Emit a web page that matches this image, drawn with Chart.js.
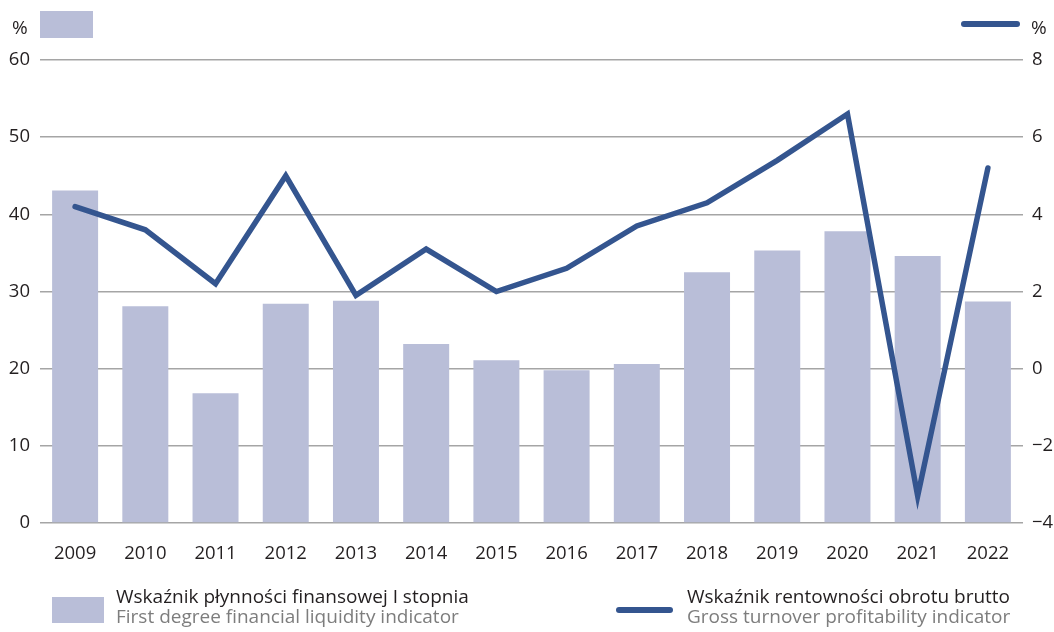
<!DOCTYPE html>
<html>
<head>
<meta charset="utf-8">
<script src="https://cdn.jsdelivr.net/npm/chart.js@4"></script>
<style>
	body { margin: 0; background: #fff; }
	#wrap { position: relative; width: 1054px; height: 632px; font-family: 'Open Sans', sans-serif; color: #231f20; }
	#wrap canvas { position: absolute; left: 0; top: 0; }
	.unit { position: absolute; font-size: 19px; line-height: 20px; }
	.swatch { position: absolute; background: #b9bed8; }
	.stroke { position: absolute; background: #34558f; border-radius: 3px; }
	.legend { position: absolute; font-size: 19px; line-height: 20px; white-space: nowrap; }
	.legend .en { color: #7d7d7d; }
</style>
</head>
<body>
<div id="wrap">
	<canvas id="finChart" width="1054" height="632"></canvas>
	<div class="unit" style="left:12px; top:17px;">%</div>
	<div class="swatch" style="left:40px; top:11px; width:53px; height:27px;"></div>
	<div class="stroke" style="left:961px; top:21px; width:59px; height:6px;"></div>
	<div class="unit" style="left:1031px; top:17px;">%</div>

	<div class="swatch" style="left:52px; top:597px; width:52px; height:26px;"></div>
	<div class="legend" style="left:116px; top:586px;">
		<div>Wskaźnik płynności finansowej I stopnia</div>
		<div class="en">First degree financial liquidity indicator</div>
	</div>
	<div class="stroke" style="left:616px; top:607px; width:57px; height:6px;"></div>
	<div class="legend" style="left:687px; top:586px;">
		<div>Wskaźnik rentowności obrotu brutto</div>
		<div class="en">Gross turnover profitability indicator</div>
	</div>
</div>
<script>
// years on the x axis
const years = ['2009', '2010', '2011', '2012', '2013', '2014', '2015', '2016', '2017', '2018', '2019', '2020', '2021', '2022'];
// first degree financial liquidity (%), left axis
const liquidity = [43.1, 28.1, 16.8, 28.4, 28.8, 23.2, 21.1, 19.8, 20.6, 32.5, 35.3, 37.8, 34.6, 28.7];
// gross turnover profitability (%), right axis
const profitability = [4.2, 3.6, 2.2, 5.0, 1.9, 3.1, 2.0, 2.6, 3.7, 4.3, 5.4, 6.6, -3.3, 5.2];

const tickFont = { family: "'Open Sans', sans-serif", size: 18.5 };
const textColor = '#231f20';

const data = {
	labels: years,
	datasets: [
		{
			type: 'line',
			label: 'Wskaźnik rentowności obrotu brutto',
			data: profitability,
			yAxisID: 'y1',
			borderColor: '#34558f',
			borderWidth: 5.5,
			borderCapStyle: 'round',
			borderJoinStyle: 'miter',
			pointRadius: 0,
			tension: 0,
			order: 0,
		},
		{
			type: 'bar',
			label: 'Wskaźnik płynności finansowej I stopnia',
			data: liquidity,
			yAxisID: 'y',
			backgroundColor: '#b9bed8',
			categoryPercentage: 1,
			barPercentage: 0.655,
			order: 1,
		},
	],
};

const config = {
	data,
	options: {
		responsive: false,
		animation: false,
		layout: { padding: { top: 60, left: 0, right: 0, bottom: 0 } },
		plugins: {
			legend: { display: false },
			tooltip: { enabled: false },
		},
		scales: {
			x: {
				grid: { display: false },
				border: { display: false },
				ticks: { font: tickFont, color: textColor, padding: 12, maxRotation: 0 },
				afterFit: (scale) => { scale.height = 109; },
			},
			y: {
				position: 'left',
				min: 0,
				max: 60,
				grid: { color: '#a5a5a5', lineWidth: 1.5, drawTicks: false },
				border: { display: false },
				ticks: { stepSize: 10, font: tickFont, color: textColor, padding: 10 },
				afterFit: (scale) => { scale.width = 40; },
			},
			y1: {
				position: 'right',
				min: -4,
				max: 8,
				grid: { display: false, drawTicks: false },
				border: { display: false },
				ticks: {
					stepSize: 2,
					font: tickFont,
					color: textColor,
					padding: 9,
					callback: (v) => String(v).replace('-', '\u2212'),
				},
				afterFit: (scale) => { scale.width = 31; },
			},
		},
	},
};

const finChart = new Chart(document.getElementById('finChart'), config);
</script>
</body>
</html>
